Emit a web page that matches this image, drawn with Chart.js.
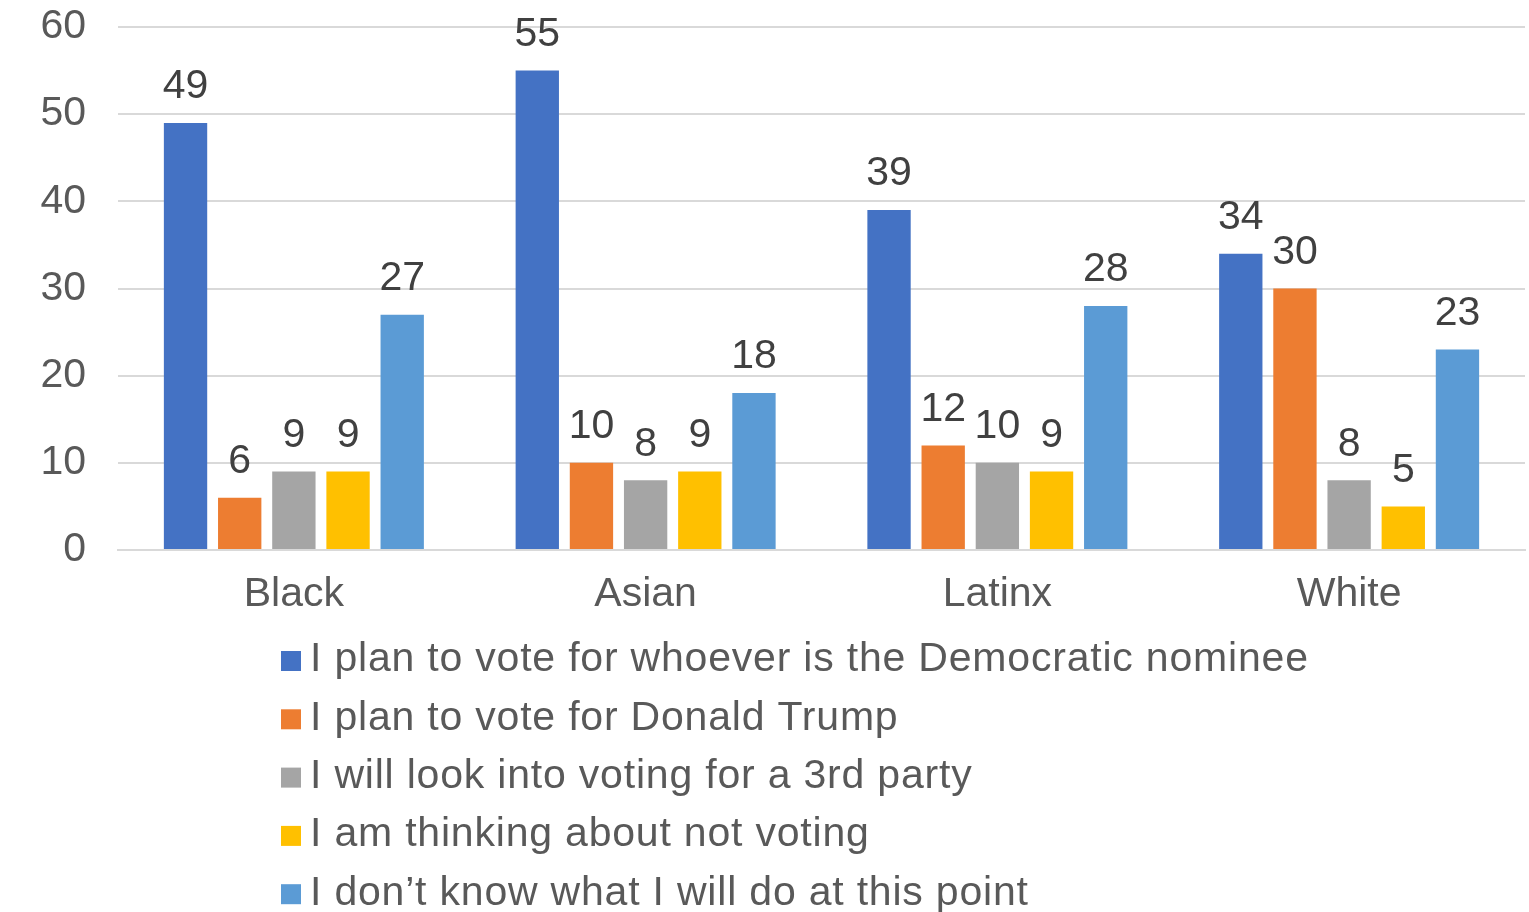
<!DOCTYPE html>
<html>
<head>
<meta charset="utf-8">
<script src="https://cdn.jsdelivr.net/npm/chart.js@4/dist/chart.umd.min.js"></script>
<style>
  html, body { margin: 0; padding: 0; background: #fff; }
  #wrap { width: 1529px; height: 912px; }
</style>
</head>
<body>
<div id="wrap"><canvas id="myBarChart"></canvas></div>
<script>
var categories = ["Black", "Asian", "Latinx", "White"];
var seriesNames = [
  "I plan to vote for whoever is the Democratic nominee",
  "I plan to vote for Donald Trump",
  "I will look into voting for a 3rd party",
  "I am thinking about not voting",
  "I don\u2019t know what I will do at this point"
];
var democratic = [49, 55, 39, 34];
var trump = [6, 10, 12, 30];
var thirdParty = [9, 8, 10, 8];
var notVoting = [9, 9, 9, 5];
var dontKnow = [27, 18, 28, 23];
var yTicks = [0, 10, 20, 30, 40, 50, 60];
var colors = ['#4472C4', '#ED7D31', '#A5A5A5', '#FFC000', '#5B9BD5'];

var FONT = "'Liberation Sans', Arial, sans-serif";

// value labels above each bar
var barLabels = {
  id: 'barLabels',
  afterDatasetsDraw: function(chart) {
    var ctx = chart.ctx;
    ctx.save();
    ctx.font = '41px ' + FONT;
    ctx.fillStyle = '#404040';
    ctx.textAlign = 'center';
    ctx.textBaseline = 'middle';
    chart.data.datasets.forEach(function(ds, i) {
      chart.getDatasetMeta(i).data.forEach(function(bar, j) {
        ctx.fillText(ds.data[j], bar.x, bar.y - 36);
      });
    });
    ctx.restore();
  }
};

// vertical legend under the axis
var stackedLegend = {
  id: 'stackedLegend',
  afterDraw: function(chart) {
    var ctx = chart.ctx;
    ctx.save();
    ctx.font = '41px ' + FONT;
    ctx.letterSpacing = '0.8px';
    ctx.textBaseline = 'middle';
    ctx.textAlign = 'left';
    chart.data.datasets.forEach(function(ds, i) {
      var y = 660 + i * 58.3;
      ctx.fillStyle = ds.backgroundColor;
      ctx.fillRect(281, y - 9, 20, 20);
      ctx.fillStyle = '#595959';
      ctx.fillText(ds.label, 310, y);
    });
    ctx.restore();
  }
};

var ctx = document.getElementById("myBarChart").getContext('2d');
var myBarChart = new Chart(ctx, {
  type: 'bar',
  data: {
    labels: categories,
    datasets: [
      { label: seriesNames[0], data: democratic, backgroundColor: colors[0] },
      { label: seriesNames[1], data: trump, backgroundColor: colors[1] },
      { label: seriesNames[2], data: thirdParty, backgroundColor: colors[2] },
      { label: seriesNames[3], data: notVoting, backgroundColor: colors[3] },
      { label: seriesNames[4], data: dontKnow, backgroundColor: colors[4] }
    ]
  },
  options: {
    responsive: true,
    maintainAspectRatio: false,
    animation: false,
    categoryPercentage: 0.77,
    barPercentage: 0.8,
    layout: { padding: { top: 27, right: 4, bottom: 300, left: 0 } },
    plugins: {
      legend: { display: false },
      tooltip: { enabled: false }
    },
    scales: {
      x: {
        grid: { display: false, drawTicks: false },
        border: { color: '#d9d9d9', width: 2 },
        ticks: { color: '#595959', font: { family: FONT, size: 41 }, padding: 20 },
        afterFit: function(s) { s.height = 62; s.paddingLeft = 0; s.paddingRight = 0; }
      },
      y: {
        min: 0,
        max: 60,
        afterBuildTicks: function(s) { s.ticks = yTicks.map(function(v) { return { value: v }; }); },
        grid: { color: '#d9d9d9', lineWidth: 2, drawTicks: false },
        border: { display: false },
        ticks: { color: '#595959', font: { family: FONT, size: 41 }, padding: 32 },
        afterFit: function(s) { s.width = 118; s.paddingTop = 0; s.paddingBottom = 0; }
      }
    }
  },
  plugins: [barLabels, stackedLegend]
});
</script>
</body>
</html>
